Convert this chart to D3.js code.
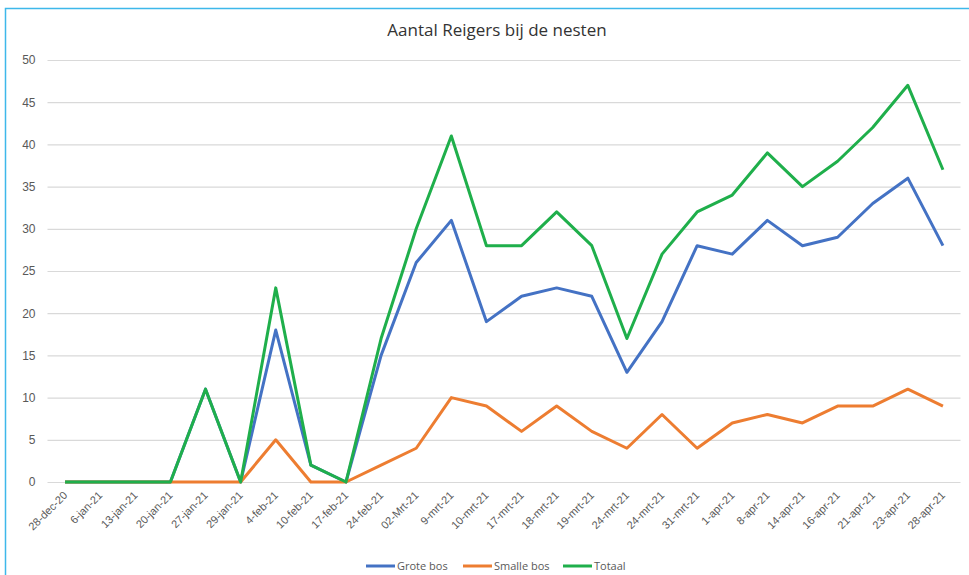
<!DOCTYPE html>
<html>
<head>
<meta charset="utf-8">
<script src="https://cdn.jsdelivr.net/npm/d3@7"></script>
<style>
  body { margin: 0; background: #fff; }
  svg { display: block; font-family: "Open Sans", Lato, sans-serif; }
</style>
</head>
<body>
<div class="holder"></div>
<script>
"use strict";

const dates = [
  "28-dec-20", "6-jan-21", "13-jan-21", "20-jan-21", "27-jan-21", "29-jan-21",
  "4-feb-21", "10-feb-21", "17-feb-21", "24-feb-21", "02-Mrt-21", "9-mrt-21",
  "10-mrt-21", "17-mrt-21", "18-mrt-21", "19-mrt-21", "24-mrt-21", "24-mrt-21",
  "31-mrt-21", "1-apr-21", "8-apr-21", "14-apr-21", "16-apr-21", "21-apr-21",
  "23-apr-21", "28-apr-21"
];
const groteBos = [0, 0, 0, 0, 11, 0, 18, 2, 0, 15, 26, 31, 19, 22, 23, 22, 13, 19, 28, 27, 31, 28, 29, 33, 36, 28];
const smalleBos = [0, 0, 0, 0, 0, 0, 5, 0, 0, 2, 4, 10, 9, 6, 9, 6, 4, 8, 4, 7, 8, 7, 9, 9, 11, 9];
const totaal = [0, 0, 0, 0, 11, 0, 23, 2, 0, 17, 30, 41, 28, 28, 32, 28, 17, 27, 32, 34, 39, 35, 38, 42, 47, 37];
const yTicks = [0, 5, 10, 15, 20, 25, 30, 35, 40, 45, 50];

const series = [
  { name: "Grote bos", values: groteBos, color: "#4472C4" },
  { name: "Smalle bos", values: smalleBos, color: "#ED7D31" },
  { name: "Totaal", values: totaal, color: "#1FAF4B" }
];

const w = 969;
const h = 575;
const plotLeft = 47.5;
const plotRight = 960.5;
const plotTop = 60;
const plotBottom = 482;

const svg = d3.select(".holder").append("svg").attr("width", w).attr("height", h);

// frame (only top and left edges are visible in the crop)
svg.append("path")
  .attr("d", "M5.5," + h + "V8.5H" + w)
  .attr("fill", "none")
  .attr("stroke", "#3DB8EA")
  .attr("stroke-width", 1.5);

const x = d3.scaleBand().domain(d3.range(dates.length)).range([plotLeft, plotRight]);
const y = d3.scaleLinear().domain([0, 50]).range([plotBottom, plotTop]);
const cx = (i) => x(i) + x.bandwidth() / 2;

// gridlines + y labels
const yAxis = d3.axisLeft(y).tickValues(yTicks).tickSize(-(plotRight - plotLeft)).tickPadding(12);
const gy = svg.append("g").attr("transform", "translate(" + plotLeft + ",0)").call(yAxis);
gy.select(".domain").remove();
gy.selectAll(".tick line").attr("stroke", "#d9d9d9").attr("stroke-width", 1.2);
gy.selectAll(".tick text").attr("fill", "#595959").style("font-size", "12px");

// x labels
const xAxis = d3.axisBottom(x).tickFormat((i) => dates[i]).tickSize(0).tickPadding(0);
const gx = svg.append("g").attr("transform", "translate(0," + plotBottom + ")").call(xAxis);
gx.select(".domain").remove();
gx.selectAll(".tick text")
  .attr("fill", "#595959")
  .style("font-size", "11px")
  .attr("text-anchor", "end")
  .attr("dy", 0)
  .attr("transform", "translate(3,14) rotate(-45)");

// lines
const line = d3.line().x((d, i) => cx(i)).y((d) => y(d));
svg.selectAll(".series")
  .data(series)
  .enter()
  .append("path")
  .attr("class", "series")
  .attr("d", (d) => line(d.values))
  .attr("fill", "none")
  .attr("stroke", (d) => d.color)
  .attr("stroke-width", 3)
  .attr("stroke-linejoin", "round");

// title
svg.append("text")
  .attr("x", 497)
  .attr("y", 36)
  .attr("text-anchor", "middle")
  .attr("fill", "#333")
  .style("font-size", "17px")
  .text("Aantal Reigers bij de nesten");

// legend
const legendX = [366, 463, 563];
const legend = svg.selectAll(".legend")
  .data(series)
  .enter()
  .append("g")
  .attr("class", "legend")
  .attr("transform", (d, i) => "translate(" + legendX[i] + ",566)");
legend.append("line")
  .attr("x1", 0).attr("x2", 29)
  .attr("stroke", (d) => d.color)
  .attr("stroke-width", 3);
legend.append("text")
  .attr("x", 31)
  .attr("dy", "0.35em")
  .attr("fill", "#595959")
  .style("font-size", "11px")
  .text((d) => d.name);
</script>
</body>
</html>
